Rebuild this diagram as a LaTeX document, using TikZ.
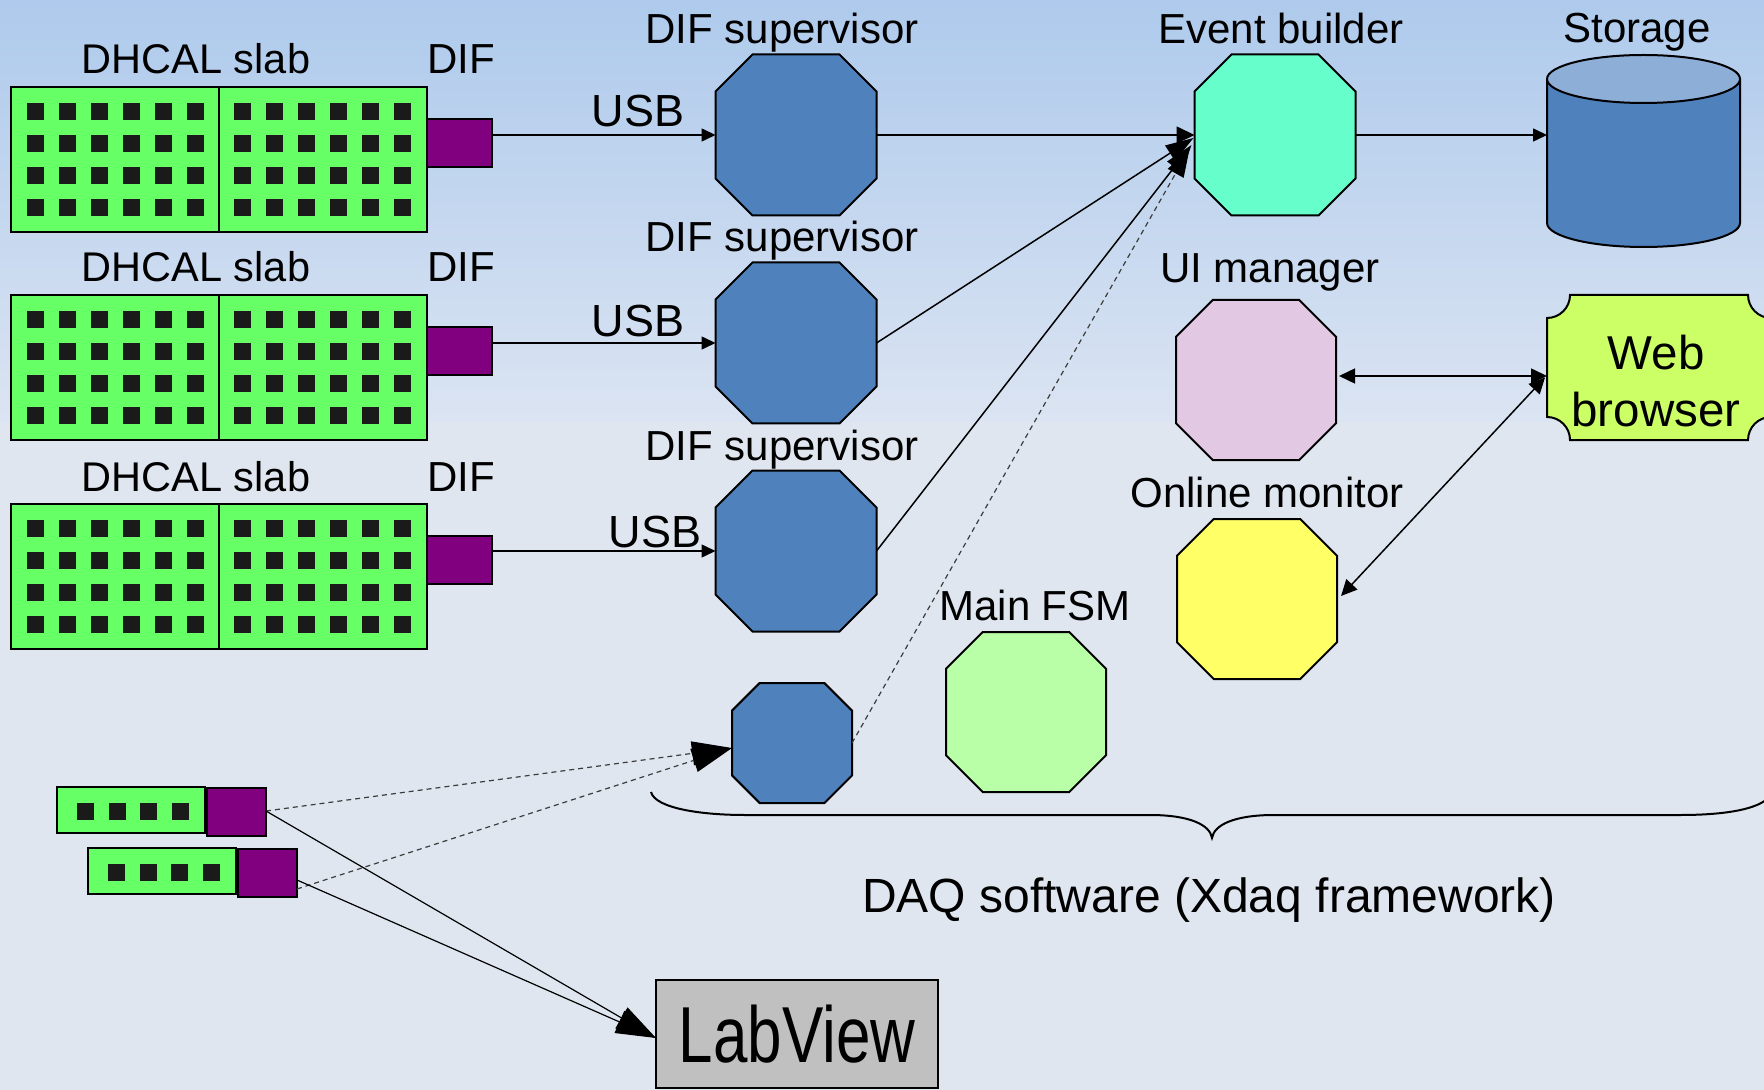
\documentclass[tikz,border=0pt]{standalone}
\usepackage{fontspec}
\setmainfont{Liberation Sans}
\usetikzlibrary{arrows.meta,calc}

\definecolor{bgtop}{RGB}{174,202,236}
\definecolor{bgmid}{RGB}{219,228,242}
\definecolor{bgbot}{RGB}{224,230,240}
\definecolor{slabgreen}{RGB}{102,255,102}
\definecolor{sqcol}{RGB}{26,26,26}
\definecolor{difpurple}{RGB}{128,0,128}
\definecolor{supblue}{RGB}{79,129,189}
\definecolor{ebcol}{RGB}{102,255,204}
\definecolor{stortop}{RGB}{141,174,214}
\definecolor{uicol}{RGB}{227,200,227}
\definecolor{omcol}{RGB}{255,255,102}
\definecolor{fsmcol}{RGB}{185,255,168}
\definecolor{webcol}{RGB}{204,255,102}
\definecolor{lvcol}{RGB}{192,192,192}
\definecolor{dashcol}{RGB}{60,60,60}

\tikzset{
  lbl/.style={font=\fontsize{21pt}{25pt}\selectfont, anchor=base, inner sep=0pt},
  outl/.style={draw=black, line width=1pt},
  conn/.style={line width=0.75pt},
  dotconn/.style={line width=0.6pt, draw=dashcol, dash pattern=on 2.5pt off 2pt},
  smallhead/.style={-{Triangle[length=7pt,width=6.5pt]}},
  bothhead/.style={{Triangle[length=8pt,width=7.5pt]}-{Triangle[length=8pt,width=7.5pt]}},
  bighead/.style={-{Triangle[length=20pt,width=12pt,color=black]}},
  midhead/.style={-{Triangle[length=14pt,width=9pt,color=black]}},
  holder/.style={inner sep=0pt, outer sep=0pt},
}

% octagon: name, cx, cy, size, fill
\newcommand\octnode[5]{%
  \pgfmathsetmacro\octH{#4/2}%
  \pgfmathsetmacro\octC{#4*0.23}%
  \draw[outl, fill=#5] ({#2-\octH+\octC},{#3-\octH}) -- ({#2+\octH-\octC},{#3-\octH})
     -- ({#2+\octH},{#3-\octH+\octC}) -- ({#2+\octH},{#3+\octH-\octC})
     -- ({#2+\octH-\octC},{#3+\octH}) -- ({#2-\octH+\octC},{#3+\octH})
     -- ({#2-\octH},{#3+\octH-\octC}) -- ({#2-\octH},{#3-\octH+\octC}) -- cycle;
  \node[holder, minimum width=#4*0.5pt, minimum height=#4*0.5pt] (#1) at (#2,#3) {};
}

% big slab: name, x, y (top-left)
\newcommand\bigslab[3]{%
  \node[holder, outl, fill=slabgreen, anchor=north west, minimum width=208pt, minimum height=72.5pt] (#1) at (#2,#3) {};
  \draw[line width=1pt] (#2+208,#3) -- (#2+208,#3+145);
  \foreach \ii in {0,...,5} {
    \foreach \jj in {0,...,3} {
      \fill[sqcol] (#2+16+32*\ii,#3+16+32*\jj) rectangle ++(17,17);
      \fill[sqcol] (#2+223+32*\ii,#3+16+32*\jj) rectangle ++(17,17);
    }
  }
  \node[holder, outl, fill=difpurple, anchor=north west, minimum width=32.5pt, minimum height=24pt] (#1d) at (#2+416,#3+32) {};
}

% small slab: name, x, y (top-left)
\newcommand\smallslab[3]{%
  \node[holder, outl, fill=slabgreen, anchor=north west, minimum width=74pt, minimum height=23pt] (#1) at (#2,#3) {};
  \foreach \ii in {0,...,3} {
    \fill[sqcol] (#2+20+31.7*\ii,#3+16) rectangle ++(17,17);
  }
  \node[holder, outl, fill=difpurple, anchor=north west, minimum width=29.5pt, minimum height=24pt] (#1d) at (#2+150,#3+1) {};
}

\begin{document}
\begin{tikzpicture}[x=0.5pt, y=-0.5pt]
\useasboundingbox (0,0) rectangle (1764,1090);
\clip (0,0) rectangle (1764,1090);
% background
\fill[bgbot] (0,0) rectangle (1764,1090);
\shade[top color=bgtop, bottom color=bgmid] (0,0) rectangle (1764,422);

% slabs
\bigslab{slab1}{11}{87}
\bigslab{slab2}{11}{295}
\bigslab{slab3}{11}{504}
\foreach \yy in {74,282,491} {
  \node[lbl, font=\fontsize{20.75pt}{25pt}\selectfont] at (196,\yy) {DHCAL slab};
  \node[lbl] at (461,\yy) {DIF};
}

% DIF supervisors
\octnode{sup1}{796}{135}{161}{supblue}
\octnode{sup2}{796}{343}{161}{supblue}
\octnode{sup3}{796}{551}{161}{supblue}
\foreach \yy in {44,252,460} {
  \node[lbl] at (782,\yy) {DIF supervisor};
}

% USB
\draw[conn, smallhead] (slab1d.east |- sup1.west) -- (sup1.west);
\draw[conn, smallhead] (slab2d.east |- sup2.west) -- (sup2.west);
\draw[conn, smallhead] (slab3d.east |- sup3.west) -- (sup3.west);
\node[lbl, font=\fontsize{22.5pt}{26pt}\selectfont] at (638,127) {USB};
\node[lbl, font=\fontsize{22.5pt}{26pt}\selectfont] at (638,337) {USB};
\node[lbl, font=\fontsize{22.5pt}{26pt}\selectfont] at (655,547) {USB};

% Event builder
\octnode{eb}{1275}{135}{161}{ebcol}
\node[lbl] at (1281,44) {Event builder};

% Storage
\fill[supblue] (1547,79) -- (1547,223) arc[start angle=180,end angle=360,x radius=48.25pt,y radius=12pt] -- (1740,79) -- cycle;
\draw[outl] (1547,79) -- (1547,223) arc[start angle=180,end angle=360,x radius=48.25pt,y radius=12pt] -- (1740,79);
\draw[outl, fill=stortop] (1643.5,79) ellipse [x radius=48.25pt, y radius=12pt];
\node[holder, minimum width=96.5pt, minimum height=96pt] (stor) at (1643.5,151) {};
\node[lbl] at (1637,43) {Storage};

% UI manager, online monitor, main FSM
\octnode{ui}{1256}{380}{160}{uicol}
\node[lbl] at (1270,283) {UI manager};
\octnode{om}{1257}{599}{160}{omcol}
\node[lbl] at (1267,507) {Online monitor};
\octnode{fsm}{1026}{712}{160}{fsmcol}
\node[lbl] at (1035,620) {Main FSM};

% small supervisor
\octnode{smallo}{792}{743}{120}{supblue}

% Web browser
\draw[outl, fill=webcol]
  (1570,295) -- (1748,295)
  .. controls (1748,307.7) and (1758.3,318) .. (1771,318)
  -- (1771,417)
  .. controls (1758.3,417) and (1748,427.3) .. (1748,440)
  -- (1570,440)
  .. controls (1570,427.3) and (1559.7,417) .. (1547,417)
  -- (1547,318)
  .. controls (1559.7,318) and (1570,307.7) .. (1570,295) -- cycle;
\node[holder, minimum width=112pt, minimum height=72.5pt] (web) at (1659,367.5) {};
\node[inner sep=0pt, align=center, font=\fontsize{23.75pt}{28.5pt}\selectfont] at (1656,381.5) {Web\\browser};

% arrows to event builder
\draw[conn, -{Triangle[length=9pt,width=8.5pt]}] (sup1.east) -- (eb.west);
\draw[conn, midhead] (sup2.east) -- ($(eb.west)+(-1,3)$);
\draw[conn, midhead] (sup3.east) -- ($(eb.west)+(-3,10)$);
\draw[dotconn, midhead] (smallo.east) -- ($(eb.west)+(-5,14)$);
\draw[conn, smallhead] (eb.east) -- (eb.east -| stor.west);

% web browser links
\draw[conn, bothhead] ($(ui.east)+(3,-4)$) -- ($(ui.east -| web.west)+(0,-4)$);
\draw[conn, bothhead] ($(web.west)+(-2,10)$) -- ($(om.east)+(4,-3)$);

% small slabs
\smallslab{sa}{57}{787}
\smallslab{sb}{88}{848}

% LabView
\node[holder, outl, fill=lvcol, minimum width=141pt, minimum height=54pt,
      font=\fontsize{39.7pt}{44pt}\selectfont] (labview) at (797,1034) {\scalebox{0.78}[1]{LabView}};

\draw[dotconn, bighead] ($(sad.east)+(0,-1)$) -- ($(smallo.west)+(0,5)$);
\draw[dotconn, bighead] ($(sbd.east)+(0,16)$) -- ($(smallo.west)+(0,5)$);
\draw[line width=0.6pt, bighead] ($(sad.east)+(0,-1)$) -- ($(labview.west)+(0,4)$);
\draw[line width=0.6pt, bighead] ($(sbd.east)+(0,7)$) -- ($(labview.west)+(0,4)$);

% brace
\draw[line width=1pt] (651,792) .. controls (655,808) and (700,815) .. (745,815)
  -- (1150,815) .. controls (1190,815) and (1210,825) .. (1212,838)
  .. controls (1214,825) and (1234,815) .. (1274,815)
  -- (1680,815) .. controls (1740,815) and (1768,805) .. (1772,792);
\node[lbl, font=\fontsize{24pt}{28pt}\selectfont] at (1209,912) {DAQ software (Xdaq framework)};
\end{tikzpicture}
\end{document}
